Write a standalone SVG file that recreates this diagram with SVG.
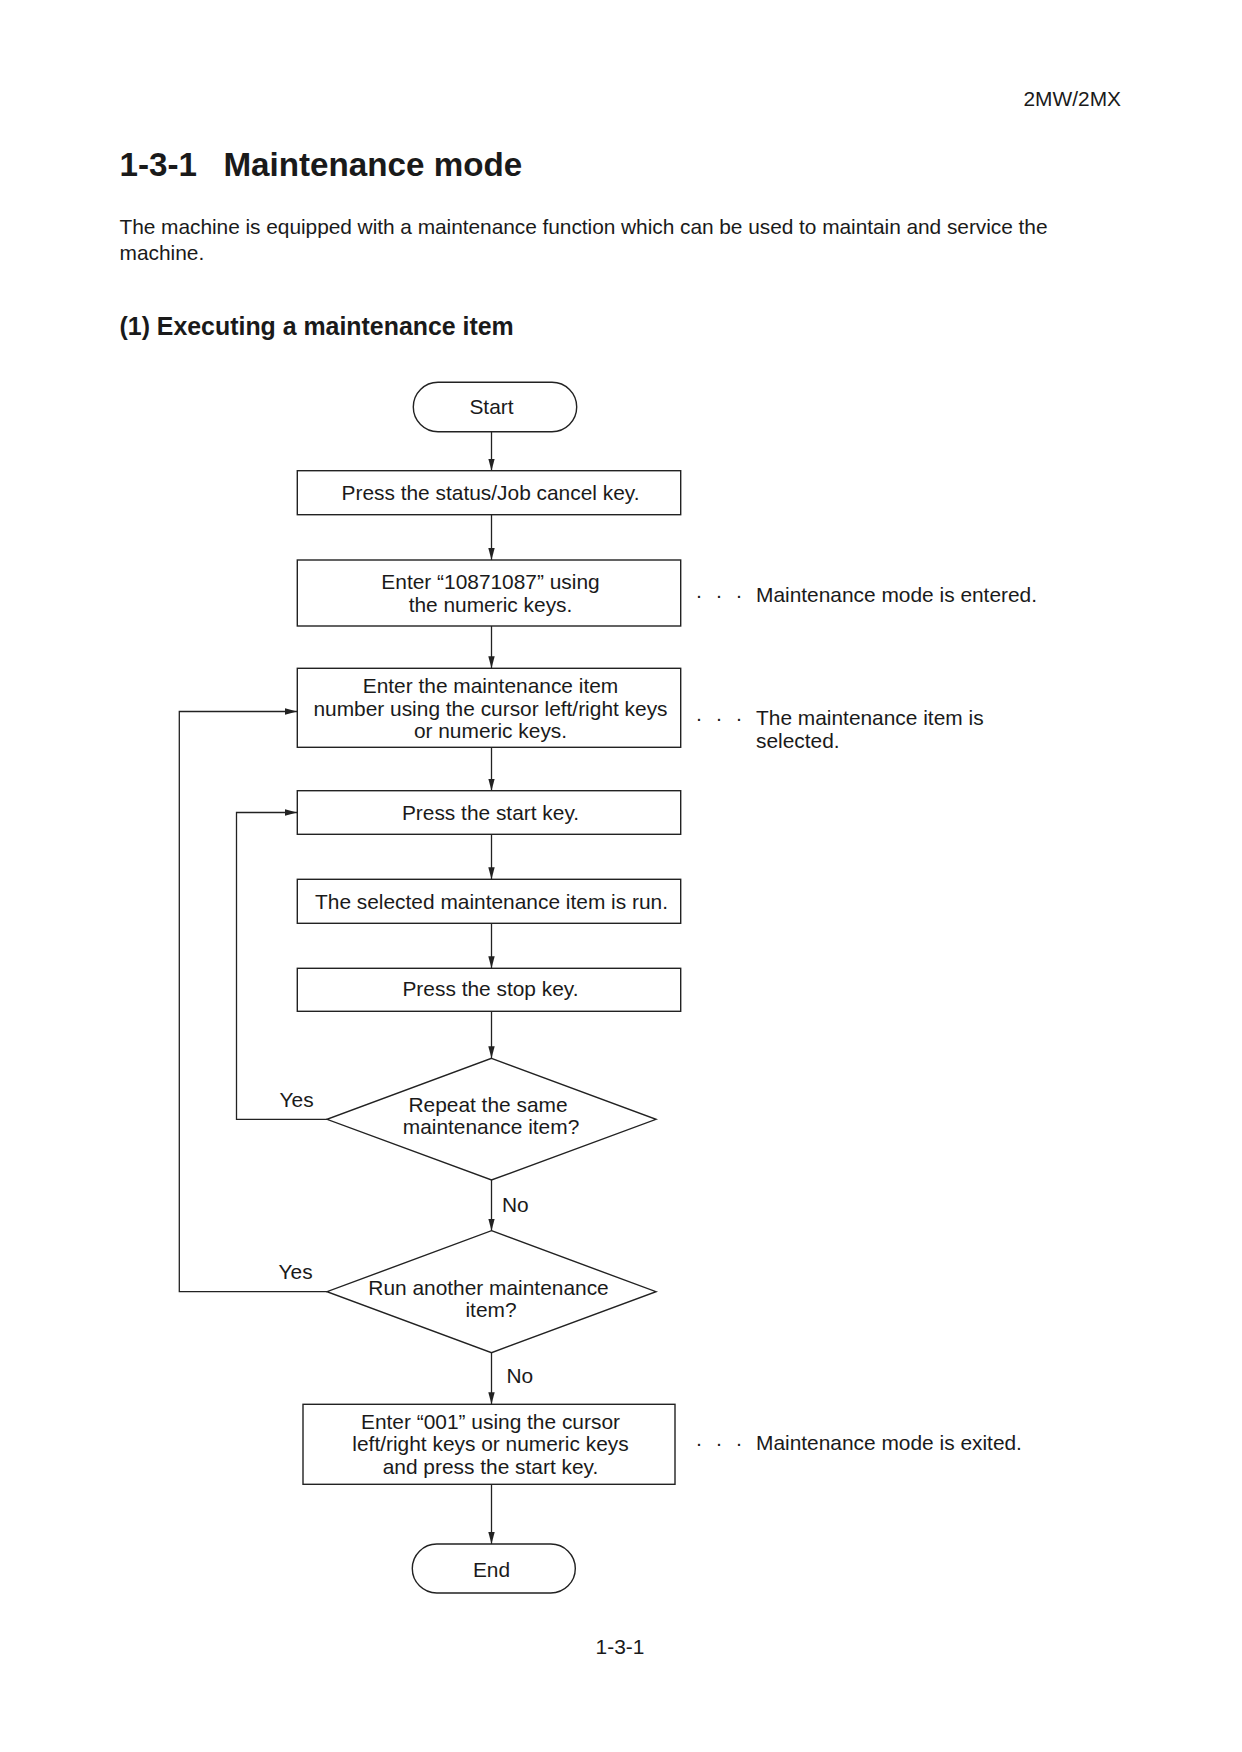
<svg xmlns="http://www.w3.org/2000/svg" width="1242" height="1752" viewBox="0 0 1242 1752">
<style>
text{font-family:"Liberation Sans",Arial,Helvetica,sans-serif;fill:#1a1a1a;}
.t{font-size:20.9px;}
.c{font-size:20.9px;text-anchor:middle;}
.h1{font-size:33.2px;font-weight:bold;}
.h2{font-size:24.9px;font-weight:bold;}
.n{fill:#fff;stroke:#222;stroke-width:1.4;}
.e{fill:none;stroke:#222;stroke-width:1.3;}
</style>
<defs>
<marker id="ah" markerUnits="userSpaceOnUse" markerWidth="13" markerHeight="8" refX="12" refY="3.2" orient="auto">
<path d="M0,0 L12,3.2 L0,6.4 z" fill="#222"/>
</marker>
</defs>
<rect width="1242" height="1752" fill="#fff"/>
<text class="t" x="1121" y="106" text-anchor="end">2MW/2MX</text>
<text class="h1" y="176"><tspan x="119.5">1-3-1</tspan><tspan x="223.4">Maintenance mode</tspan></text>
<text class="t" x="119.5" y="234" textLength="928" lengthAdjust="spacing">The machine is equipped with a maintenance function which can be used to maintain and service the</text>
<text class="t" x="119.5" y="260">machine.</text>
<text class="h2" x="119.5" y="334.5">(1) Executing a maintenance item</text>

<g id="connectors">
<line class="e" x1="491.5" y1="432" x2="491.5" y2="470.7" marker-end="url(#ah)"/>
<line class="e" x1="491.5" y1="514.7" x2="491.5" y2="560" marker-end="url(#ah)"/>
<line class="e" x1="491.5" y1="626" x2="491.5" y2="668.3" marker-end="url(#ah)"/>
<line class="e" x1="491.5" y1="747.3" x2="491.5" y2="790.7" marker-end="url(#ah)"/>
<line class="e" x1="491.5" y1="834.3" x2="491.5" y2="879.3" marker-end="url(#ah)"/>
<line class="e" x1="491.5" y1="923.3" x2="491.5" y2="968.3" marker-end="url(#ah)"/>
<line class="e" x1="491.5" y1="1011.3" x2="491.5" y2="1058.3" marker-end="url(#ah)"/>
<line class="e" x1="491.5" y1="1180" x2="491.5" y2="1230.7" marker-end="url(#ah)"/>
<line class="e" x1="491.5" y1="1352.7" x2="491.5" y2="1404.3" marker-end="url(#ah)"/>
<line class="e" x1="491.5" y1="1484.3" x2="491.5" y2="1544" marker-end="url(#ah)"/>
<path class="e" d="M327,1119.3 H236.5 V812.5 H297" marker-end="url(#ah)"/>
<path class="e" d="M327,1291.7 H179.3 V711.5 H297" marker-end="url(#ah)"/>
<text class="t" x="279.5" y="1107">Yes</text>
<text class="t" x="278.5" y="1279">Yes</text>
<text class="t" x="502" y="1212">No</text>
<text class="t" x="506.5" y="1383">No</text>
</g>

<g id="start">
<rect class="n" x="413.3" y="382.3" width="163.4" height="49.4" rx="24.7"/>
<text class="c" x="491.5" y="414">Start</text>
</g>
<g id="box1">
<rect class="n" x="297.3" y="470.7" width="383.4" height="44"/>
<text class="c" x="490.5" y="500">Press the status/Job cancel key.</text>
</g>
<g id="box2">
<rect class="n" x="297.3" y="560" width="383.4" height="66"/>
<text class="c" x="490.5" y="589">Enter “10871087” using</text>
<text class="c" x="490.5" y="612">the numeric keys.</text>
</g>
<g id="note1">
<text class="t" x="699" y="601.5" text-anchor="middle">·</text>
<text class="t" x="719" y="601.5" text-anchor="middle">·</text>
<text class="t" x="739" y="601.5" text-anchor="middle">·</text>
<text class="t" x="756" y="601.5">Maintenance mode is entered.</text>
</g>
<g id="box3">
<rect class="n" x="297.3" y="668.3" width="383.4" height="79"/>
<text class="c" x="490.5" y="693">Enter the maintenance item</text>
<text class="c" x="490.5" y="715.5">number using the cursor left/right keys</text>
<text class="c" x="490.5" y="738">or numeric keys.</text>
</g>
<g id="note2">
<text class="t" x="699" y="724.5" text-anchor="middle">·</text>
<text class="t" x="719" y="724.5" text-anchor="middle">·</text>
<text class="t" x="739" y="724.5" text-anchor="middle">·</text>
<text class="t" x="756" y="724.5">The maintenance item is</text>
<text class="t" x="756" y="747.5">selected.</text>
</g>
<g id="box4">
<rect class="n" x="297.3" y="790.7" width="383.4" height="43.6"/>
<text class="c" x="490.5" y="819.5">Press the start key.</text>
</g>
<g id="box5">
<rect class="n" x="297.3" y="879.3" width="383.4" height="44"/>
<text class="c" x="491.5" y="908.5">The selected maintenance item is run.</text>
</g>
<g id="box6">
<rect class="n" x="297.3" y="968.3" width="383.4" height="43"/>
<text class="c" x="490.5" y="996">Press the stop key.</text>
</g>
<g id="decision1">
<polygon class="n" points="491.5,1058.3 656,1119.3 491.5,1180 327,1119.3"/>
<text class="c" x="488" y="1112">Repeat the same</text>
<text class="c" x="491" y="1133.5">maintenance item?</text>
</g>
<g id="decision2">
<polygon class="n" points="491.5,1230.7 656,1291.7 491.5,1352.7 327,1291.7"/>
<text class="c" x="488.5" y="1295">Run another maintenance</text>
<text class="c" x="491" y="1317">item?</text>
</g>
<g id="box7">
<rect class="n" x="303" y="1404.3" width="372" height="80"/>
<text class="c" x="490.5" y="1428.5">Enter “001” using the cursor</text>
<text class="c" x="490.5" y="1451">left/right keys or numeric keys</text>
<text class="c" x="490.5" y="1473.5">and press the start key.</text>
</g>
<g id="note3">
<text class="t" x="699" y="1449.5" text-anchor="middle">·</text>
<text class="t" x="719" y="1449.5" text-anchor="middle">·</text>
<text class="t" x="739" y="1449.5" text-anchor="middle">·</text>
<text class="t" x="756" y="1449.5">Maintenance mode is exited.</text>
</g>
<g id="end">
<rect class="n" x="412.3" y="1544" width="163" height="49" rx="24.5"/>
<text class="c" x="491.5" y="1577">End</text>
</g>
<text class="t" x="620" y="1653.5" text-anchor="middle">1-3-1</text>
</svg>
